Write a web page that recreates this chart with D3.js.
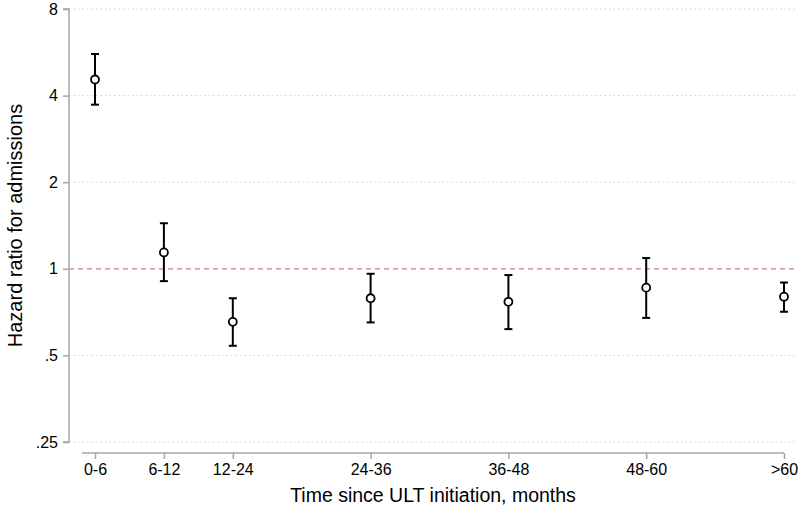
<!DOCTYPE html>
<html>
<head>
<meta charset="utf-8">
<script src="https://cdn.jsdelivr.net/npm/d3@7"></script>
<style>
  html, body { margin: 0; padding: 0; background: #fff; }
  svg { display: block; font-family: "Liberation Sans", Arial, sans-serif; }
</style>
</head>
<body>
<svg id="chart" width="800" height="512"></svg>
<script>
// Data
const categories = ["0-6", "6-12", "12-24", "24-36", "36-48", "48-60", ">60"];
const periodIndex = [1, 2, 3, 5, 7, 9, 11];
const hazardRatio = [4.55, 1.14, 0.654, 0.79, 0.768, 0.86, 0.80];
const ciLower = [3.72, 0.906, 0.54, 0.651, 0.617, 0.675, 0.709];
const ciUpper = [5.58, 1.44, 0.79, 0.961, 0.951, 1.09, 0.896];
const yTicks = [0.25, 0.5, 1, 2, 4, 8];
const yTickLabels = [".25", ".5", "1", "2", "4", "8"];

const svg = d3.select("#chart");
const plotLeft = 69, plotRight = 797, plotTop = 9, plotBottom = 442;

const x = d3.scaleLinear().domain([1, 11]).range([95, 784]);
const y = d3.scaleLog().base(2).domain([0.25, 8]).range([plotBottom, plotTop]);

// gridlines
svg.append("g").selectAll("line")
  .data(yTicks.filter(d => d !== 1))
  .join("line")
  .attr("x1", plotLeft).attr("x2", plotRight)
  .attr("y1", d => y(d)).attr("y2", d => y(d))
  .attr("stroke", "#cfcfcf").attr("stroke-width", 1)
  .attr("stroke-dasharray", "1.5,3");

// reference line at 1
svg.append("line")
  .attr("x1", plotLeft).attr("x2", plotRight)
  .attr("y1", y(1)).attr("y2", y(1))
  .attr("stroke", "#c77d9a").attr("stroke-width", 1.3)
  .attr("stroke-dasharray", "5,4");

// y axis
const yAxis = d3.axisLeft(y).tickValues(yTicks)
  .tickFormat((d, i) => yTickLabels[i]).tickSize(6).tickPadding(5);
const gy = svg.append("g").attr("transform", `translate(${plotLeft},0)`).call(yAxis);
gy.select(".domain").attr("stroke", "#a6a6a6").attr("stroke-width", 1.5)
  .attr("d", `M-6,${plotTop}H0V${plotBottom}H-6`);
gy.selectAll(".tick line").attr("stroke", "#a6a6a6").attr("stroke-width", 1.5);
gy.selectAll(".tick text").attr("font-size", 16).attr("fill", "#000")
  .attr("font-family", "Liberation Sans, Arial, sans-serif");

// x axis
const xAxis = d3.axisBottom(x).tickValues(periodIndex)
  .tickFormat((d, i) => categories[i]).tickSize(6).tickPadding(5);
const gx = svg.append("g").attr("transform", "translate(0,453)").call(xAxis);
gx.select(".domain").attr("stroke", "#a6a6a6").attr("stroke-width", 1.5)
  .attr("d", `M82,0H${x(11)}V0`);
gx.selectAll(".tick line").attr("stroke", "#a6a6a6").attr("stroke-width", 1.5);
gx.selectAll(".tick text").attr("font-size", 16).attr("fill", "#000")
  .attr("font-family", "Liberation Sans, Arial, sans-serif");

// axis titles
svg.append("text")
  .attr("x", 433).attr("y", 502)
  .attr("text-anchor", "middle").attr("font-size", 19.5).attr("fill", "#000")
  .text("Time since ULT initiation, months");
svg.append("text")
  .attr("transform", `translate(22,${(plotTop + plotBottom) / 2}) rotate(-90)`)
  .attr("text-anchor", "middle").attr("font-size", 20).attr("fill", "#000")
  .text("Hazard ratio for admissions");

// error bars
const data = categories.map((c, i) => ({
  c, px: periodIndex[i], hr: hazardRatio[i], lo: ciLower[i], hi: ciUpper[i]
}));
const eb = svg.append("g").attr("stroke", "#000").attr("stroke-width", 2).attr("fill", "none");
eb.selectAll("line.v").data(data).join("line").attr("class", "v")
  .attr("x1", d => x(d.px)).attr("x2", d => x(d.px))
  .attr("y1", d => y(d.lo)).attr("y2", d => y(d.hi));
eb.selectAll("line.hi").data(data).join("line").attr("class", "hi")
  .attr("x1", d => x(d.px) - 4).attr("x2", d => x(d.px) + 4)
  .attr("y1", d => y(d.hi)).attr("y2", d => y(d.hi));
eb.selectAll("line.lo").data(data).join("line").attr("class", "lo")
  .attr("x1", d => x(d.px) - 4).attr("x2", d => x(d.px) + 4)
  .attr("y1", d => y(d.lo)).attr("y2", d => y(d.lo));

// points
svg.append("g").selectAll("circle").data(data).join("circle")
  .attr("cx", d => x(d.px)).attr("cy", d => y(d.hr)).attr("r", 4)
  .attr("fill", "#fff").attr("stroke", "#000").attr("stroke-width", 1.8);
</script>
</body>
</html>
